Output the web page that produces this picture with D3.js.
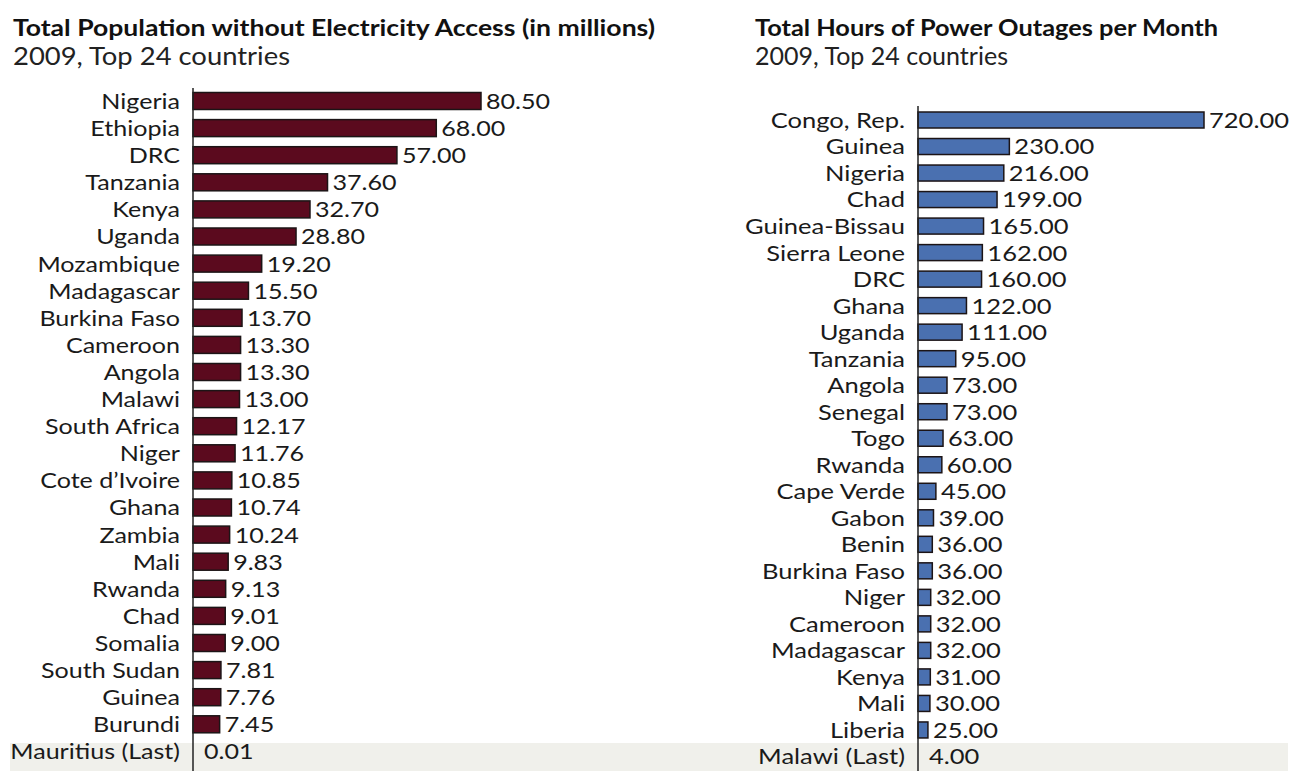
<!DOCTYPE html>
<html><head><meta charset="utf-8">
<script src="https://cdn.jsdelivr.net/npm/d3@7"></script>
<style>body{margin:0;background:#fff;}svg{display:block;}</style>
</head><body>
<svg id="c" width="1292" height="771"></svg>
<script>
const popCountries = ["Nigeria","Ethiopia","DRC","Tanzania","Kenya","Uganda","Mozambique","Madagascar","Burkina Faso","Cameroon","Angola","Malawi","South Africa","Niger","Cote d’Ivoire","Ghana","Zambia","Mali","Rwanda","Chad","Somalia","South Sudan","Guinea","Burundi","Mauritius (Last)"];
const popValues = [80.50,68.00,57.00,37.60,32.70,28.80,19.20,15.50,13.70,13.30,13.30,13.00,12.17,11.76,10.85,10.74,10.24,9.83,9.13,9.01,9.00,7.81,7.76,7.45,0.01];
const outCountries = ["Congo, Rep.","Guinea","Nigeria","Chad","Guinea-Bissau","Sierra Leone","DRC","Ghana","Uganda","Tanzania","Angola","Senegal","Togo","Rwanda","Cape Verde","Gabon","Benin","Burkina Faso","Niger","Cameroon","Madagascar","Kenya","Mali","Liberia","Malawi (Last)"];
const outValues = [720,230,216,199,165,162,160,122,111,95,73,73,63,60,45,39,36,36,32,32,32,31,30,25,4];

const svg = d3.select("#c");
const FONT = "Lato, 'Open Sans', sans-serif";

svg.append("rect").attr("x",10).attr("y",743).attr("width",1278).attr("height",28).attr("fill","#f0f0eb");

function panel(o){
  const g = svg.append("g");
  g.append("text").attr("x",o.tx).attr("y",36).attr("font-family",FONT).attr("font-weight","bold")
    .attr("font-size",23).attr("fill","#111").attr("textLength",o.tw).attr("lengthAdjust","spacingAndGlyphs").text(o.title);
  g.append("text").attr("x",o.tx).attr("y",65).attr("font-family",FONT)
    .attr("font-size",25).attr("fill","#222").attr("textLength",o.sw).attr("lengthAdjust","spacingAndGlyphs").text(o.sub);
  const n = o.cats.length;
  const y = d3.scalePoint().domain(o.cats).range([o.y0, o.y0 + o.step*(n-1)]);
  const x = d3.scaleLinear().domain([0, o.vals[0]]).range([o.ax, o.xmax]);
  const data = o.cats.map((c,i)=>({c, v:o.vals[i], last:i===n-1}));
  g.selectAll("rect.bar").data(data.filter(d=>!d.last)).join("rect").attr("class","bar")
    .attr("x",x(0)).attr("y",d=>y(d.c)-o.bh/2).attr("width",d=>x(d.v)-x(0)).attr("height",o.bh)
    .attr("fill",o.color).attr("stroke","#1c1416").attr("stroke-width",1.5);
  g.append("line").attr("x1",o.ax).attr("x2",o.ax).attr("y1",o.axTop).attr("y2",771)
    .attr("stroke","#222").attr("stroke-width",1.5);
  const FS = 22, SX = o.sx;
  g.selectAll("text.cat").data(data).join("text").attr("class","cat")
    .attr("transform",d=>`translate(${o.ax-13},${y(d.c)}) scale(${SX},1)`).attr("dy","0.36em").attr("text-anchor","end")
    .attr("font-family",FONT).attr("font-size",FS).attr("fill","#1a1a1a").text(d=>d.c);
  g.selectAll("text.val").data(data).join("text").attr("class","val")
    .attr("transform",d=>`translate(${d.last ? x(0)+11 : x(d.v)+5},${y(d.c)}) scale(${SX},1)`).attr("dy","0.36em")
    .attr("font-family",FONT).attr("font-size",FS).attr("fill","#1a1a1a").text(d=>d.v.toFixed(2));
}

panel({title:"Total Population without Electricity Access (in millions)", sub:"2009, Top 24 countries",
  tx:13, tw:642, sw:277, sx:1.14, cats:popCountries, vals:popValues, ax:193, xmax:481, y0:101, step:27.1, bh:17, axTop:88, color:"#5b0a1e"});
panel({title:"Total Hours of Power Outages per Month", sub:"2009, Top 24 countries",
  tx:755, tw:463, sw:253, sx:1.16, cats:outCountries, vals:outValues, ax:918, xmax:1204, y0:120, step:26.52, bh:16, axTop:106, color:"#4a70b0"});
</script>
</body></html>
